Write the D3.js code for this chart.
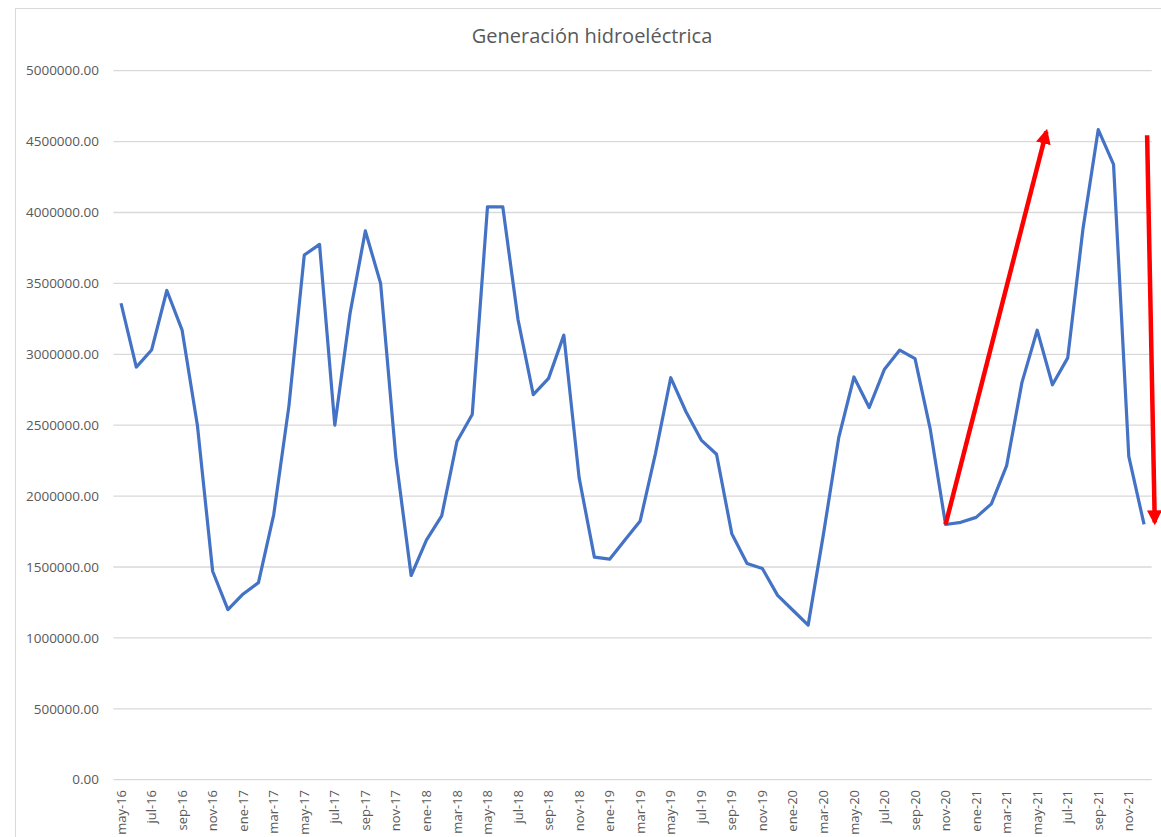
<!DOCTYPE html>
<meta charset="utf-8">
<script src="https://cdn.jsdelivr.net/npm/d3@7"></script>
<style>
  body { margin: 0; background: #fff; }
  text { font-family: "Open Sans", sans-serif; fill: #595959; }
</style>
<div id="my_dataviz"></div>
<script>

// categories (one per month, may-16 .. dic-21)
const months = [
  "may-16","jun-16","jul-16","ago-16","sep-16","oct-16","nov-16","dic-16",
  "ene-17","feb-17","mar-17","abr-17","may-17","jun-17","jul-17","ago-17","sep-17","oct-17","nov-17","dic-17",
  "ene-18","feb-18","mar-18","abr-18","may-18","jun-18","jul-18","ago-18","sep-18","oct-18","nov-18","dic-18",
  "ene-19","feb-19","mar-19","abr-19","may-19","jun-19","jul-19","ago-19","sep-19","oct-19","nov-19","dic-19",
  "ene-20","feb-20","mar-20","abr-20","may-20","jun-20","jul-20","ago-20","sep-20","oct-20","nov-20","dic-20",
  "ene-21","feb-21","mar-21","abr-21","may-21","jun-21","jul-21","ago-21","sep-21","oct-21","nov-21","dic-21"
];

// generation values
const generation = [
  3360000, 2910000, 3030000, 3450000, 3170000, 2500000, 1470000, 1200000,
  1310000, 1390000, 1870000, 2640000, 3700000, 3775000, 2500000, 3290000, 3870000, 3500000, 2270000, 1440000,
  1690000, 1860000, 2385000, 2575000, 4040000, 4040000, 3245000, 2715000, 2830000, 3135000, 2130000, 1570000,
  1555000, 1690000, 1825000, 2300000, 2835000, 2595000, 2395000, 2295000, 1735000, 1525000, 1490000, 1300000,
  1195000, 1090000, 1730000, 2410000, 2840000, 2625000, 2895000, 3030000, 2970000, 2470000, 1800000, 1815000,
  1850000, 1945000, 2215000, 2800000, 3170000, 2785000, 2975000, 3885000, 4585000, 4340000, 2280000, 1800000
];

// y axis ticks
const yTicks = [0, 500000, 1000000, 1500000, 2000000, 2500000, 3000000, 3500000, 4000000, 4500000, 5000000];

// hand-drawn red arrows: [month index, value] start -> end
const arrows = [
  [[54, 1800000], [60.6, 4570000]],
  [[67.2, 4545000], [67.7, 1815000]]
];

const W = 1161, H = 837;
const margin = { left: 113.4, right: 1151.7, top: 70.7, bottom: 779.7 };

const svg = d3.select("#my_dataviz").append("svg")
  .attr("width", W).attr("height", H);

// chart border
svg.append("rect")
  .attr("x", 15.5).attr("y", 8.5)
  .attr("width", 1200).attr("height", 900)
  .attr("fill", "none").attr("stroke", "#d9d9d9");

const x = d3.scalePoint().domain(months).range([margin.left, margin.right]).padding(0.5);
const xi = d3.scaleLinear().domain([0, months.length - 1])
  .range([x(months[0]), x(months[months.length - 1])]);
const y = d3.scaleLinear().domain([0, 5000000]).range([margin.bottom, margin.top]);

// gridlines
svg.append("g").selectAll("line")
  .data(yTicks).enter().append("line")
  .attr("x1", margin.left).attr("x2", margin.right)
  .attr("y1", d => y(d)).attr("y2", d => y(d))
  .attr("stroke", "#d9d9d9").attr("stroke-width", 1.3);

// y labels
svg.append("g").selectAll("text")
  .data(yTicks).enter().append("text")
  .attr("x", 99).attr("y", d => y(d))
  .attr("dy", "0.35em")
  .attr("text-anchor", "end")
  .style("font-size", "13.5px")
  .text(d => d3.format(".2f")(d));

// x labels, every second month
svg.append("g").selectAll("text")
  .data(months.filter((d, i) => i % 2 === 0)).enter().append("text")
  .attr("transform", d => "translate(" + x(d) + ",790) rotate(-90)")
  .attr("dy", "0.35em")
  .attr("text-anchor", "end")
  .style("font-size", "13px")
  .text(d => d);

// title
svg.append("text")
  .attr("x", 592).attr("y", 43)
  .attr("text-anchor", "middle")
  .style("font-size", "20px")
  .text("Generación hidroeléctrica");

// line
const line = d3.line()
  .x((d, i) => x(months[i]))
  .y(d => y(d));

svg.append("path")
  .datum(generation)
  .attr("d", line)
  .attr("fill", "none")
  .attr("stroke", "#4472C4")
  .attr("stroke-width", 3.2)
  .attr("stroke-linejoin", "round");

// arrow marker
svg.append("defs").append("marker")
  .attr("id", "head")
  .attr("markerUnits", "userSpaceOnUse")
  .attr("viewBox", "0 0 10 10")
  .attr("refX", 8).attr("refY", 5)
  .attr("markerWidth", 15).attr("markerHeight", 15)
  .attr("orient", "auto")
  .append("path")
  .attr("d", "M0,0 L10,5 L0,10 z")
  .attr("fill", "#ff0000");

svg.append("g").selectAll("line")
  .data(arrows).enter().append("line")
  .attr("x1", d => xi(d[0][0])).attr("y1", d => y(d[0][1]))
  .attr("x2", d => xi(d[1][0])).attr("y2", d => y(d[1][1]))
  .attr("stroke", "#ff0000")
  .attr("stroke-width", 4.5)
  .attr("marker-end", "url(#head)");

</script>
